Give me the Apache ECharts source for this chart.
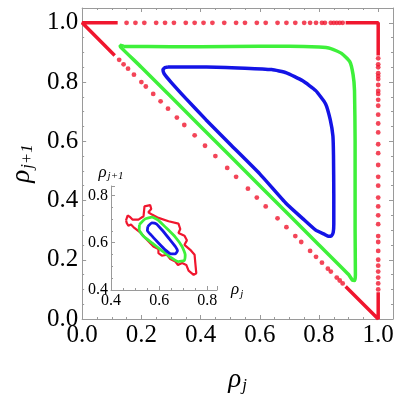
<!DOCTYPE html>
<html>
<head>
<meta charset="utf-8">
<script src="https://cdn.jsdelivr.net/npm/echarts@6/dist/echarts.min.js"></script>
</head>
<body style="margin:0">
<div id="chart" style="width:399px;height:399px"></div>
<script>
// red dots of the boundary orbit (main plot)
const redTopDots = [[0.15,1],[0.18,1],[0.21,1],[0.25,1],[0.28,1],[0.31,1],[0.35,1],[0.38,1],[0.41,1],[0.44,1],[0.48,1],[0.52,1],[0.55,1],[0.59,1],[0.62,1],[0.66,1],[0.69,1],[0.72,1],[0.75,1],[0.77,1],[0.79,1],[0.81,1],[0.82,1],[0.84,1],[0.85,1],[0.86,1],[0.87,1],[0.88,1]];
const redRightDots = [[1,0.88],[1,0.86],[1,0.85],[1,0.83],[1,0.82],[1,0.81],[1,0.79],[1,0.77],[1,0.76],[1,0.74],[1,0.72],[1,0.69],[1,0.66],[1,0.63],[1,0.59],[1,0.56],[1,0.52],[1,0.48],[1,0.45],[1,0.41],[1,0.38],[1,0.35],[1,0.32],[1,0.28],[1,0.26],[1,0.23],[1,0.2],[1,0.18],[1,0.16],[1,0.14],[1,0.12],[1,0.1]];
const redDiagDots = [[0.125,0.875],[0.14,0.86],[0.155,0.845],[0.175,0.825],[0.2,0.8],[0.215,0.785],[0.24,0.76],[0.265,0.735],[0.29,0.71],[0.32,0.68],[0.345,0.655],[0.38,0.62],[0.415,0.585],[0.45,0.55],[0.49,0.51],[0.52,0.48],[0.56,0.44],[0.59,0.41],[0.62,0.38],[0.66,0.34],[0.69,0.31],[0.72,0.28],[0.74,0.26],[0.77,0.23],[0.79,0.21],[0.81,0.19],[0.83,0.17],[0.84,0.16],[0.86,0.14],[0.87,0.13],[0.88,0.12]];
// dense stretches of the red orbit near the corners
const redDense = [
  [[0.11,0.89],[0,1],[0.12,1]],
  [[0.89,1],[1,1],[1,0.89]],
  [[1,0.09],[1,0],[0.89,0.11]]
];
const greenMain = [[0.14,0.921],[0.3,0.919],[0.5,0.92],[0.7,0.921],[0.8,0.918],[0.84,0.913],[0.876,0.897],[0.904,0.869],[0.915,0.826],[0.92,0.771],[0.922,0.6],[0.922,0.3],[0.923,0.15],[0.921,0.13],[0.913,0.131],[0.9,0.15],[0.8,0.25],[0.6,0.45],[0.4,0.65],[0.2,0.85],[0.13,0.918],[0.128,0.924],[0.14,0.921]];
const blueMain = [[0.29,0.851],[0.42,0.851],[0.55,0.847],[0.64,0.842],[0.69,0.831],[0.745,0.804],[0.789,0.771],[0.822,0.727],[0.838,0.673],[0.847,0.618],[0.849,0.552],[0.85,0.42],[0.85,0.32],[0.848,0.292],[0.842,0.281],[0.832,0.279],[0.82,0.285],[0.789,0.3],[0.745,0.339],[0.69,0.389],[0.6,0.49],[0.5,0.59],[0.418,0.673],[0.35,0.745],[0.3,0.8],[0.277,0.828],[0.273,0.842],[0.28,0.849],[0.29,0.851]];
// inset
const redInset = [[0.4625,0.695],[0.469,0.715],[0.479,0.709],[0.489,0.698],[0.514,0.698],[0.535,0.712],[0.539,0.754],[0.5625,0.759],[0.567,0.743],[0.555,0.729],[0.57,0.719],[0.597,0.705],[0.639,0.691],[0.68,0.681],[0.6875,0.658],[0.68,0.641],[0.705,0.63],[0.715,0.61],[0.705,0.591],[0.729,0.57],[0.747,0.549],[0.75,0.514],[0.754,0.471],[0.743,0.464],[0.722,0.482],[0.7125,0.506],[0.695,0.514],[0.678,0.506],[0.667,0.52],[0.646,0.531],[0.632,0.549],[0.611,0.545],[0.597,0.556],[0.597,0.573],[0.576,0.584],[0.549,0.613],[0.521,0.644],[0.497,0.6625],[0.483,0.677],[0.472,0.672],[0.465,0.684],[0.4625,0.695]];
const greenInset = [[0.518,0.677],[0.542,0.701],[0.57,0.708],[0.597,0.695],[0.629,0.663],[0.667,0.624],[0.695,0.584],[0.708,0.549],[0.704,0.525],[0.68,0.52],[0.646,0.539],[0.611,0.567],[0.57,0.599],[0.535,0.627],[0.517,0.655],[0.518,0.677]];
const blueInset = [[0.553,0.669],[0.57,0.684],[0.588,0.68],[0.611,0.655],[0.639,0.62],[0.667,0.584],[0.676,0.566],[0.667,0.553],[0.649,0.553],[0.625,0.57],[0.597,0.599],[0.565,0.634],[0.551,0.652],[0.553,0.669]];

const RED = "#f0162e", GREEN = "#3ef03a", BLUE = "#1414e6";
const FONT = "serif";
const gray = "#9a9a9a";

function axisBase(extra) {
  return Object.assign({
    type: "value",
    axisLine: { show: true, onZero: false, lineStyle: { color: gray, width: 1 } },
    axisTick: { show: true, inside: true, length: 4, lineStyle: { color: gray } },
    minorTick: { show: true, splitNumber: 4, length: 2, lineStyle: { color: gray } },
    splitLine: { show: false }
  }, extra);
}

// only multiples of 0.2 get a label, so the 1.05 / 0.84 ends stay blank
const tickText = v => Math.abs(v * 5 - Math.round(v * 5)) < 1e-6 ? v.toFixed(1) : "";
const label = (size, margin) => ({ fontFamily: FONT, fontSize: size, color: "#000", margin: margin, formatter: tickText });
const nameStyle = (big, small, pad, extra) => Object.assign({
  fontFamily: FONT,
  rich: {
    r: { fontFamily: FONT, fontStyle: "italic", fontSize: big, color: "#000" },
    s: { fontFamily: FONT, fontStyle: "italic", fontSize: small, color: "#000", padding: [pad, 0, 0, 1] }
  }
}, extra);

const line = (data, color, width, xi) => ({
  type: "line", xAxisIndex: xi, yAxisIndex: xi, data: data, showSymbol: false, smooth: 0.15,
  lineStyle: { color: color, width: width }, silent: true
});
const dots = data => ({
  type: "scatter", xAxisIndex: 0, yAxisIndex: 0, data: data, symbolSize: 4.8,
  itemStyle: { color: RED }, silent: true
});

const chart = echarts.init(document.getElementById("chart"));
chart.setOption({
  animation: false,
  grid: [
    { left: 73, top: 8, width: 320, height: 320 },
    { left: 111, top: 186, width: 106, height: 104 }
  ],
  xAxis: [
    axisBase({ gridIndex: 0, min: 0, max: 1.05, interval: 0.2, position: "bottom", axisLabel: label(25, 4),
      name: "{r|ρ}{s|j}", nameLocation: "middle", nameGap: 46,
      nameTextStyle: nameStyle(27, 17, 12) }),
    axisBase({ gridIndex: 0, min: 0, max: 1.05, interval: 0.2, position: "top", axisLabel: { show: false } }),
    axisBase({ gridIndex: 1, min: 0.4, max: 0.84, interval: 0.2, position: "bottom", axisLabel: label(16, 3),
      name: "{r|ρ}{s|j}", nameLocation: "end", nameGap: 14,
      nameTextStyle: nameStyle(17, 11, 8, { verticalAlign: "middle" }) })
  ],
  yAxis: [
    axisBase({ gridIndex: 0, min: 0, max: 1.05, interval: 0.2, position: "left", axisLabel: label(25, 4),
      name: "{r|ρ}{s|j+1}", nameLocation: "middle", nameGap: 42,
      nameTextStyle: nameStyle(27, 17, 12) }),
    axisBase({ gridIndex: 0, min: 0, max: 1.05, interval: 0.2, position: "right", axisLabel: { show: false } }),
    axisBase({ gridIndex: 1, min: 0.4, max: 0.84, interval: 0.2, position: "left", axisLabel: label(16, 3),
      name: "{r|ρ}{s|j+1}", nameLocation: "end", nameGap: 4,
      nameTextStyle: nameStyle(17, 11, 8, { align: "center" }) })
  ],
  series: [
    dots(redTopDots),
    dots(redRightDots),
    dots(redDiagDots),
    ...redDense.map(d => Object.assign(line(d, RED, 3.5, 0), { smooth: false })),
    line(greenMain, GREEN, 3.5, 0),
    line(blueMain, BLUE, 3.5, 0),
    Object.assign(line(redInset, RED, 2.2, 2), { smooth: false }),
    line(greenInset, GREEN, 2.8, 2),
    line(blueInset, BLUE, 2.8, 2)
  ]
});
</script>
</body>
</html>
